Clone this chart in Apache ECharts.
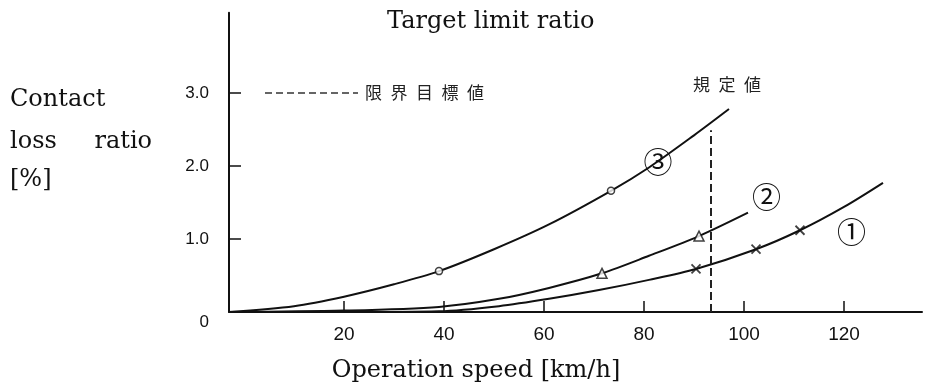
<!DOCTYPE html>
<html>
<head>
<meta charset="utf-8">
<script src="https://cdn.jsdelivr.net/npm/echarts@6/dist/echarts.min.js"></script>
<style>html,body{margin:0;padding:0;background:#fff;}#c{width:952px;height:387px;}</style>
</head>
<body>
<div id="c"></div>
<script>
// ---- data (speed km/h, contact loss ratio %) ----
var curve1 = [[-3,0],[20,0],[39,0.01],[51,0.08],[61,0.18],[71,0.3],[81,0.44],[90.4,0.59],[102.4,0.86],[111.2,1.12],[120,1.44],[127.8,1.77]];
var curve2 = [[-3,0],[20,0.02],[39,0.07],[51,0.18],[61,0.33],[71.6,0.53],[81,0.77],[91,1.04],[100.8,1.36]];
var curve3 = [[-3,0],[10,0.08],[20,0.21],[30,0.38],[39,0.56],[50,0.86],[61,1.2],[73.4,1.66],[81,1.98],[90,2.42],[97,2.78]];
var crossMarks = [[90.4,0.59],[102.4,0.86],[111.2,1.12]];
var triangleMarks = [[71.6,0.53],[91,1.04]];
var circleMarks = [[39,0.56],[73.4,1.66]];
var xTicks = [20,40,60,80,100,120];
var yTicks = [1,2,3];
var yLabels = [0,1,2,3];
var limitTarget = 3.0;          // 限界目標値
var limitLegendSpan = [4.2,22.8];
var ruleSpeed = 93.4;           // 規定値
var ruleTop = 2.49;
var curveNames = ['①','②','③'];
var curveNamePos = [[121.5,1.10],[104.5,1.58],[82.8,2.05]];
var ruleLabelPos = [96.6,3.11];

var chart = echarts.init(document.getElementById('c'), null, {renderer:'canvas'});
var ink = '#111';
var cjk = '"Noto Sans CJK JP", sans-serif';
function nameMark(i){
  return {
    silent:true, symbol:'rect', symbolSize:1, itemStyle:{color:'rgba(0,0,0,0)'},
    label:{show:true, position:'inside', formatter:curveNames[i], fontFamily:cjk, fontSize:29, color:ink},
    data:[{coord:curveNamePos[i]}]
  };
}
var lineBase = {type:'line', smooth:0.3, symbol:'none', lineStyle:{color:ink, width:2}, z:3, silent:true};
var E = '\u2002';
var option = {
  animation:false,
  backgroundColor:'#fff',
  grid:{left:229, right:30, top:12.7, bottom:75},
  xAxis:{
    type:'value', min:-3, max:135.6,
    axisLine:{show:true, onZero:false, lineStyle:{color:ink, width:2}},
    axisTick:{show:true, inside:true, length:11, customValues:xTicks, lineStyle:{color:ink, width:1.5}},
    axisLabel:{customValues:xTicks, margin:13, fontFamily:'"Liberation Sans", sans-serif', fontSize:19, color:'#111'},
    splitLine:{show:false}
  },
  yAxis:{
    type:'value', min:0, max:4.1,
    axisLine:{show:true, onZero:false, lineStyle:{color:ink, width:2}},
    axisTick:{show:true, inside:true, length:12, customValues:yTicks, lineStyle:{color:ink, width:1.5}},
    axisLabel:{customValues:yLabels, margin:20, fontFamily:'"Liberation Sans", sans-serif', fontSize:17, color:'#111',
      formatter:function(v){ return v===0 ? '{z|0}' : v.toFixed(1); },
      rich:{z:{padding:[20,0,0,0], fontFamily:'"Liberation Sans", sans-serif', fontSize:17, color:'#111'}}
    },
    splitLine:{show:false}
  },
  graphic:[
    {type:'text', x:387, y:22, style:{text:'Target limit ratio', font:'24px "DejaVu Serif"', fill:ink, verticalAlign:'middle', align:'left'}},
    {type:'text', x:476, y:371, style:{text:'Operation speed [km/h]', font:'24px "DejaVu Serif"', fill:ink, verticalAlign:'middle', align:'center'}},
    {type:'text', x:10, y:100, style:{text:'Contact', font:'24px "DejaVu Serif"', fill:ink, verticalAlign:'middle', align:'left'}},
    {type:'text', x:10, y:142, style:{text:'loss', font:'24px "DejaVu Serif"', fill:ink, verticalAlign:'middle', align:'left'}},
    {type:'text', x:152, y:142, style:{text:'ratio', font:'24px "DejaVu Serif"', fill:ink, verticalAlign:'middle', align:'right'}},
    {type:'text', x:10, y:180, style:{text:'[%]', font:'24px "DejaVu Serif"', fill:ink, verticalAlign:'middle', align:'left'}}
  ],
  series:[
    Object.assign({}, lineBase, {name:'①', data:curve1, markPoint:nameMark(0)}),
    Object.assign({}, lineBase, {name:'②', data:curve2, markPoint:nameMark(1)}),
    Object.assign({}, lineBase, {name:'③', data:curve3, markPoint:{
        silent:true, symbol:'rect', symbolSize:1, itemStyle:{color:'rgba(0,0,0,0)'},
        data:[
          {coord:curveNamePos[2], label:{show:true, position:'inside', formatter:curveNames[2], fontFamily:cjk, fontSize:29, color:ink}},
          {coord:ruleLabelPos, label:{show:true, position:'inside', formatter:'規'+E+'定'+E+'値', fontFamily:cjk, fontSize:17, color:'#222'}}
        ]
      },
      markLine:{
        silent:true, symbol:['none','none'], animation:false,
        data:[
          [{coord:[ruleSpeed,0], lineStyle:{type:[8,4], width:2, color:'#222'}, label:{show:false}},
           {coord:[ruleSpeed,ruleTop]}],
          [{coord:[limitLegendSpan[0],limitTarget], lineStyle:{type:[7,4], width:1.5, color:'#333'},
             label:{show:true, position:'end', distance:7, formatter:'限'+E+'界'+E+'目'+E+'標'+E+'値', fontFamily:cjk, fontSize:17, color:'#222'}},
           {coord:[limitLegendSpan[1],limitTarget]}]
        ]
      }}),
    {type:'scatter', data:circleMarks, symbol:'circle', symbolSize:7, z:5, silent:true,
      itemStyle:{color:'#fff', borderColor:ink, borderWidth:1.5}},
    {type:'scatter', data:triangleMarks, symbol:'triangle', symbolSize:10, z:5, silent:true,
      itemStyle:{color:'#fff', borderColor:ink, borderWidth:1.5}},
    {type:'scatter', data:crossMarks, symbol:'path://M0,0L10,10M10,0L0,10', symbolSize:9, z:5, silent:true,
      itemStyle:{color:'none', borderColor:ink, borderWidth:1.8}}
  ]
};
chart.setOption(option);
</script>
</body>
</html>
